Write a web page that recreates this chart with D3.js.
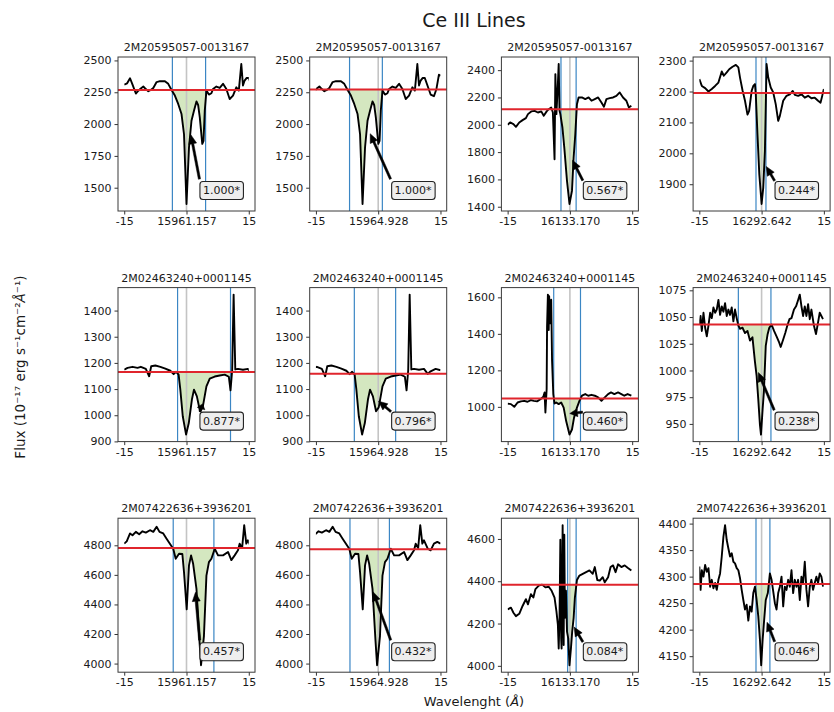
<!DOCTYPE html>
<html>
<head>
<meta charset="utf-8">
<script src="https://d3js.org/d3.v7.min.js"></script>
<style>
  body { margin: 0; background: #fff; }
  svg { font-family: "DejaVu Sans", sans-serif; }
</style>
</head>
<body>
<div class="chart"></div>
<script>
(function() {

  // star ids (one per row) and line centres (one per column)
  const stars = ['2M20595057-0013167', '2M02463240+0001145', '2M07422636+3936201'];
  const lineCenters = [15961.157, 15964.928, 16133.170, 16292.642];
  const centerLabels = ['15961.157', '15964.928', '16133.170', '16292.642'];
  const edgeTickLabels = ['-15', '15'];
  // the spectra below are stored as offsets (Angstrom) from these wavelengths
  const regionRef = [15961.157, 15961.157, 16133.170, 16292.642];

  // 2M20595057-0013167
  const flux1_15961 = [[-15,2310],[-14.3,2320],[-13.6,2360],[-13.0,2310],[-12.2,2240],[-11.6,2262],[-11.0,2280],
    [-10.4,2295],[-9.8,2275],[-9.2,2258],[-8.6,2268],[-8.0,2284],[-7.2,2330],[-6.4,2337],[-5.2,2337],[-4.4,2316],
    [-3.6,2268],[-2.8,2224],[-2.0,2158],[-1.2,2079],[-0.6,1920],[0.0,1372],[0.6,1816],[1.2,2026],[1.8,2105],
    [2.4,2178],[2.8,2150],[3.2,2053],[3.8,1845],[4.1,1868],[4.4,2105],[4.8,2263],[5.4,2232],[6.0,2242],[6.4,2276],
    [7.2,2295],[8.0,2284],[8.8,2316],[9.6,2276],[10.4,2197],[11.2,2224],[12.0,2289],[12.6,2263],[13.2,2472],
    [13.6,2303],[14.0,2342],[14.5,2363],[15.0,2362],[15.7,2297],[16.4,2232],[17.2,2219],[17.8,2276],[18.4,2388],[18.8,2380]];
  const flux1_16133 = [[-15,2000],[-14.4,2017],[-13.6,2005],[-13.0,1985],[-12.2,2017],[-11.4,2034],[-10.6,2049],
    [-10.1,2078],[-9.3,2098],[-8.5,2102],[-7.7,2090],[-6.9,2098],[-6.3,2066],[-5.6,2098],[-5.1,2114],[-4.5,2127],
    [-4.1,2090],[-3.7,1748],[-3.5,2371],[-3.25,2078],[-2.9,2298],[-2.7,2445],[-2.5,2102],[-2.3,2078],[-1.8,1980],
    [-1.35,1833],[-0.7,1589],[-0.1,1420],[0.5,1516],[0.9,1760],[1.3,1931],[1.7,2151],[2.1,2200],[2.9,2200],
    [3.7,2188],[4.5,2200],[5.2,2176],[6.0,2188],[6.8,2200],[7.6,2163],[8.2,2132],[8.8,2188],[9.6,2195],[10.4,2200],
    [11.2,2212],[12.0,2237],[12.8,2200],[13.6,2176],[14.2,2127],[14.8,2139]];
  const flux1_16292 = [[-15,2240],[-14.4,2218],[-13.6,2211],[-12.8,2200],[-12.0,2208],[-11.2,2218],[-10.4,2229],
    [-9.6,2265],[-9.1,2251],[-8.4,2262],[-7.8,2272],[-7.0,2280],[-6.2,2286],[-5.6,2278],[-5.2,2245],[-4.6,2204],
    [-4.0,2170],[-3.4,2125],[-3.0,2137],[-2.4,2202],[-2.0,2218],[-1.6,2224],[-1.4,2191],[-1.0,2062],[-0.55,1932],
    [0.0,1836],[0.4,1889],[0.8,2008],[1.2,2289],[1.6,2245],[2.2,2213],[2.8,2197],[3.4,2159],[4.0,2105],[4.4,2121],
    [5.2,2170],[6.0,2186],[6.8,2191],[7.5,2202],[8.0,2189],[8.8,2186],[9.6,2191],[10.4,2180],[11.2,2186],
    [12.0,2178],[12.8,2180],[13.6,2170],[14.2,2164],[14.7,2191],[15.0,2208]];

  // 2M02463240+0001145
  const flux2_15961 = [[-15,1174],[-14.2,1181],[-13.0,1185],[-11.8,1181],[-11.0,1185],[-9.8,1177],[-9.0,1149],
    [-8.5,1187],[-7.5,1190],[-6.3,1185],[-5.1,1178],[-3.9,1170],[-3.1,1157],[-2.5,1166],[-1.9,1155],[-1.5,1100],
    [-0.9,996],[-0.1,926],[0.55,970],[1.3,1060],[1.8,1098],[2.5,1072],[3.25,1015],[3.9,1030],[4.8,1110],
    [5.6,1140],[6.8,1148],[8.0,1152],[9.2,1155],[10.2,1147],[10.6,1095],[11.0,1172],[11.35,1461],[11.75,1175],
    [12.4,1177],[13.6,1174],[14.8,1177],[15.7,1158],[16.4,1168],[17.6,1177],[18.8,1172]];
  const flux2_16133 = [[-15,1018],[-14.2,1015],[-13.4,1000],[-12.6,1024],[-11.8,1030],[-11.0,1033],[-10.2,1028],
    [-9.4,1037],[-8.7,1033],[-7.9,1030],[-7.1,1042],[-6.4,1055],[-6.1,1079],[-5.9,969],[-5.6,1098],[-5.5,1439],
    [-5.3,1615],[-5.1,1421],[-5.0,1606],[-4.7,1458],[-4.5,1587],[-4.3,1255],[-4.0,1070],[-3.7,1018],[-3.3,1024],
    [-2.7,1015],[-2.1,1024],[-1.5,996],[-0.9,922],[-0.1,848],[0.5,876],[1.0,941],[1.7,996],[2.3,1033],[2.9,1061],
    [3.7,1070],[4.4,1061],[5.2,1066],[6.0,1061],[6.8,1052],[7.6,1033],[8.4,1052],[9.2,1070],[9.9,1079],[10.7,1070],
    [11.6,1079],[12.4,1070],[13.1,1061],[13.9,1070],[14.8,1061]];
  const flux2_16292 = [[-15,1043],[-14.7,1051],[-14.4,1037],[-14.0,1054],[-13.6,1040],[-13.2,1032],[-12.8,1042],
    [-12.4,1054],[-12.0,1049],[-11.6,1059],[-11.2,1054],[-10.8,1057],[-10.4,1066],[-10.0,1052],[-9.6,1060],
    [-9.2,1055],[-8.8,1063],[-8.4,1051],[-8.0,1057],[-7.6,1052],[-7.2,1059],[-6.8,1046],[-6.4,1057],[-6.0,1049],
    [-5.6,1042],[-5.2,1039],[-4.6,1040],[-4.0,1035],[-3.4,1037],[-2.8,1028],[-2.2,1031],[-1.6,1008],[-1.2,995],
    [-0.8,973],[-0.4,949],[-0.15,940],[0.25,964],[0.55,980],[1.0,1023],[1.45,1034],[1.85,1040],[2.4,1043],
    [3.0,1037],[3.6,1032],[4.25,1026],[4.6,1022],[5.2,1029],[5.7,1035],[6.2,1042],[6.7,1048],[7.2,1049],
    [7.8,1057],[8.3,1060],[8.8,1066],[9.2,1071],[9.6,1060],[10.0,1051],[10.4,1060],[10.8,1051],[11.2,1062],
    [11.6,1048],[12.0,1057],[12.6,1042],[13.1,1034],[13.6,1045],[14.0,1054],[14.4,1051],[14.8,1048]];

  // 2M07422636+3936201
  const flux3_15961 = [[-15,4811],[-14.4,4827],[-13.6,4880],[-13.0,4868],[-12.2,4891],[-11.4,4875],[-10.6,4895],
    [-9.8,4886],[-8.8,4902],[-8.0,4891],[-7.2,4925],[-6.5,4891],[-5.6,4880],[-4.8,4845],[-4.0,4811],[-3.2,4777],
    [-2.6,4709],[-1.8,4743],[-1.0,4741],[-0.6,4618],[0.05,4367],[0.6,4664],[1.1,4732],[1.6,4675],[2.4,4505],
    [3.1,4164],[3.5,3989],[4.2,4186],[4.8,4595],[5.4,4686],[6.0,4709],[6.8,4777],[7.6,4732],[8.8,4732],
    [10.0,4755],[10.8,4700],[11.6,4732],[12.4,4766],[12.8,4811],[13.4,4782],[13.9,4936],[14.4,4811],[14.8,4834],
    [15.7,4777],[16.4,4766],[17.2,4811],[18.0,4823],[18.8,4811]];
  const flux3_16133 = [[-15,4267],[-14.2,4275],[-13.6,4251],[-13.0,4235],[-12.2,4246],[-11.4,4283],[-10.6,4315],
    [-10.1,4291],[-9.4,4339],[-8.8,4323],[-8.3,4363],[-7.5,4379],[-6.7,4384],[-5.9,4371],[-5.1,4374],[-4.4,4355],
    [-3.7,4323],[-3.25,4259],[-2.9,4195],[-2.7,4082],[-2.5,4227],[-2.3,4596],[-2.1,4130],[-2.0,4082],[-1.75,4665],
    [-1.5,4098],[-1.35,4620],[-1.2,4227],[-0.95,4355],[-0.7,4162],[-0.4,4130],[-0.1,4003],[0.25,4082],[0.55,4162],
    [0.9,4227],[1.2,4323],[1.7,4406],[2.3,4427],[3.1,4435],[3.9,4443],[4.7,4451],[5.5,4435],[6.0,4467],[6.6,4406],
    [7.2,4403],[7.9,4419],[8.4,4395],[9.2,4419],[9.8,4467],[10.4,4475],[11.0,4443],[11.6,4480],[12.4,4467],
    [13.2,4475],[13.9,4464],[14.8,4451]];
  const flux3_16292 = [[-15,4319],[-14.7,4275],[-14.4,4312],[-14.0,4300],[-13.6,4322],[-13.2,4309],[-12.8,4316],
    [-12.4,4281],[-12.0,4294],[-11.6,4278],[-11.2,4288],[-10.8,4275],[-10.4,4294],[-10.0,4306],[-9.6,4338],
    [-9.2,4375],[-8.8,4397],[-8.4,4369],[-8.0,4353],[-7.6,4338],[-7.2,4344],[-6.8,4328],[-6.4,4325],[-6.0,4316],
    [-5.6,4312],[-5.2,4297],[-4.8,4275],[-4.4,4256],[-4.0,4238],[-3.6,4247],[-3.2,4217],[-2.8,4244],[-2.4,4234],
    [-2.0,4269],[-1.6,4281],[-1.2,4256],[-0.8,4225],[-0.4,4181],[-0.1,4133],[0.25,4181],[0.55,4212],[1.0,4256],
    [1.5,4269],[2.0,4306],[2.4,4294],[2.8,4272],[3.2,4250],[3.6,4238],[4.0,4269],[4.4,4281],[4.8,4300],[5.2,4244],
    [5.6,4281],[6.0,4275],[6.4,4294],[6.8,4281],[7.2,4312],[7.6,4269],[8.0,4294],[8.4,4281],[8.8,4294],[9.2,4256],
    [9.6,4300],[10.0,4288],[10.4,4328],[10.8,4275],[11.2,4244],[11.6,4281],[12.0,4294],[12.4,4275],[12.8,4288],
    [13.2,4300],[13.6,4288],[14.0,4306],[14.4,4300],[14.8,4281]];

  const spectra = [
    [flux1_15961, flux1_15961, flux1_16133, flux1_16292],
    [flux2_15961, flux2_15961, flux2_16133, flux2_16292],
    [flux3_15961, flux3_15961, flux3_16133, flux3_16292]
  ];

  // continuum level (red line)
  const continuum = [[2268, 2271, 2114, 2195], [1165, 1159, 1046, 1043], [4782, 4773, 4384, 4286]];
  // integration window edges (blue lines), offsets from line centre
  const windowLo = [[-3.4, -6.9, -2.15, -1.35], [-2.15, -5.75, -3.9, -5.6], [-3.2, -6.8, -0.55, -1.35]];
  const windowHi = [[4.6, 1.0, 1.5, 1.05], [10.6, 4.2, 2.55, 2.25], [6.6, 2.7, 1.5, 2.0]];
  // annotation text and the point each arrow points at
  const ewLabels = [['1.000*', '1.000*', '0.567*', '0.244*'], ['0.877*', '0.796*', '0.460*', '0.238*'],
    ['0.457*', '0.432*', '0.084*', '0.046*']];
  const arrowTargets = [
    [[0.96, 1934], [-2.2, 1944], [0.5, 1748], [1.0, 1960]],
    [[3.9, 1045], [-0.1, 1056], [-0.2, 963], [-1.0, 1000]],
    [[2.1, 4500], [-1.45, 4503], [0.9, 4187], [1.2, 4216]]
  ];
  const yTicks = [
    [[1500, 1750, 2000, 2250, 2500], [1500, 1750, 2000, 2250, 2500], [1400, 1600, 1800, 2000, 2200, 2400], [1900, 2000, 2100, 2200, 2300]],
    [[900, 1000, 1100, 1200, 1300, 1400], [900, 1000, 1100, 1200, 1300, 1400], [1000, 1200, 1400, 1600], [950, 975, 1000, 1025, 1050, 1075]],
    [[4000, 4200, 4400, 4600, 4800], [4000, 4200, 4400, 4600, 4800], [4000, 4200, 4400, 4600], [4150, 4200, 4250, 4300, 4350, 4400]]
  ];

  let svgContainer = '';
  const W = 137, H = 154;

  window.onload = function() {
    svgContainer = d3.select('.chart').append('svg')
      .attr('width', 834)
      .attr('height', 712);

    svgContainer.append('text')
      .attr('x', 474)
      .attr('y', 27)
      .attr('text-anchor', 'middle')
      .attr('font-size', 19)
      .attr('fill', '#1a1a1a')
      .text('Ce III Lines');

    for (let r = 0; r < 3; r++) {
      for (let c = 0; c < 4; c++) {
        drawPanel(r, c, 118 + c * 191.7, 57 + r * 230.6);
      }
    }

    svgContainer.append('text')
      .attr('x', 474)
      .attr('y', 706)
      .attr('text-anchor', 'middle')
      .attr('font-size', 13)
      .attr('fill', '#1a1a1a')
      .html('Wavelenght (<tspan font-style="italic">Å</tspan>)');

    svgContainer.append('text')
      .attr('transform', 'translate(20, 367)rotate(-90)')
      .attr('text-anchor', 'middle')
      .attr('dominant-baseline', 'central')
      .attr('font-size', 13.5)
      .attr('fill', '#1a1a1a')
      .html('Flux (10⁻¹⁷ erg s⁻¹cm⁻²<tspan font-style="italic">Å</tspan>⁻¹)');
  };

  // one small axes: spectrum, continuum, window, fill and annotation
  function drawPanel(r, c, left, top) {
    let shift = lineCenters[c] - regionRef[c];
    let pts = spectra[r][c].map((d) => [d[0] - shift, d[1]]);
    let shown = pts.filter((d) => d[0] >= -15.05 && d[0] <= 15.05);

    // autoscale y like matplotlib (5% margins)
    let ext = d3.extent(shown, (d) => d[1]);
    let m = (ext[1] - ext[0]) * 0.05;
    let xScale = d3.scaleLinear().domain([-16.5, 16.5]).range([0, W]);
    let yScale = d3.scaleLinear().domain([ext[0] - m, ext[1] + m]).range([H, 0]);

    let g = svgContainer.append('g')
      .attr('transform', 'translate(' + left + ',' + top + ')');

    let id = 'p' + r + c;
    let lo = windowLo[r][c], hi = windowHi[r][c];
    let defs = g.append('defs');
    defs.append('clipPath').attr('id', id + 'a').append('rect')
      .attr('x', xScale(-15)).attr('y', 0)
      .attr('width', xScale(15) - xScale(-15)).attr('height', H);
    defs.append('clipPath').attr('id', id + 'w').append('rect')
      .attr('x', xScale(lo)).attr('y', 0)
      .attr('width', xScale(hi) - xScale(lo)).attr('height', H);

    // shaded area between continuum and spectrum inside the window
    let area = d3.area()
      .x((d) => xScale(d[0]))
      .y0(yScale(continuum[r][c]))
      .y1((d) => yScale(d[1]));
    g.append('path')
      .datum(pts)
      .attr('d', area)
      .attr('fill', '#d4e7c0')
      .attr('clip-path', 'url(#' + id + 'w)');

    // line centre
    g.append('line')
      .attr('x1', xScale(0)).attr('x2', xScale(0))
      .attr('y1', 0).attr('y2', H)
      .attr('stroke', '#c4c4c4')
      .attr('stroke-width', 1.6);

    // window edges
    g.selectAll('.edge')
      .data([lo, hi])
      .enter()
      .append('line')
        .attr('x1', (d) => xScale(d)).attr('x2', (d) => xScale(d))
        .attr('y1', 0).attr('y2', H)
        .attr('stroke', '#3b86c4')
        .attr('stroke-width', 1.2);

    // spectrum
    let line = d3.line()
      .x((d) => xScale(d[0]))
      .y((d) => yScale(d[1]));
    g.append('path')
      .datum(pts)
      .attr('d', line)
      .attr('fill', 'none')
      .attr('stroke', '#000')
      .attr('stroke-width', 1.9)
      .attr('stroke-linejoin', 'round')
      .attr('clip-path', 'url(#' + id + 'a)');

    // continuum
    g.append('line')
      .attr('x1', 0).attr('x2', W)
      .attr('y1', yScale(continuum[r][c])).attr('y2', yScale(continuum[r][c]))
      .attr('stroke', '#e0252c')
      .attr('stroke-width', 2);

    // axes
    let yAxis = d3.axisLeft(yScale)
      .tickValues(yTicks[r][c])
      .tickFormat(d3.format('d'))
      .tickSize(3.5)
      .tickPadding(3);
    let yg = g.append('g').call(yAxis);

    let xAxis = d3.axisBottom(xScale)
      .tickValues([-15, 0, 15])
      .tickFormat((d) => d === 0 ? centerLabels[c] : (d < 0 ? edgeTickLabels[0] : edgeTickLabels[1]))
      .tickSize(3.5)
      .tickPadding(3);
    let xg = g.append('g').attr('transform', 'translate(0,' + H + ')').call(xAxis);

    [xg, yg].forEach((a) => {
      a.select('.domain').remove();
      a.selectAll('line').attr('stroke', '#333');
      a.selectAll('text')
        .attr('font-family', '"DejaVu Sans", sans-serif')
        .attr('font-size', 11)
        .attr('fill', '#1a1a1a');
    });

    g.append('rect')
      .attr('width', W).attr('height', H)
      .attr('fill', 'none')
      .attr('stroke', '#3a3a3a')
      .attr('stroke-width', 1);

    g.append('text')
      .attr('x', W / 2)
      .attr('y', -6)
      .attr('text-anchor', 'middle')
      .attr('font-size', 11)
      .attr('fill', '#1a1a1a')
      .text(stars[r]);

    // annotation box
    let lx = W * 0.755, ly = H * (1 - 0.133);
    let box = g.append('rect');
    let label = g.append('text')
      .attr('x', lx).attr('y', ly)
      .attr('text-anchor', 'middle')
      .attr('dominant-baseline', 'central')
      .attr('font-size', 11)
      .attr('fill', '#1a1a1a')
      .text(ewLabels[r][c]);
    let bb = label.node().getBBox();
    let pad = 3;
    let bx0 = bb.x - pad, by0 = bb.y - pad + 0.5, bx1 = bb.x + bb.width + pad, by1 = bb.y + bb.height + pad - 0.5;
    box.attr('x', bx0).attr('y', by0)
      .attr('width', bx1 - bx0).attr('height', by1 - by0)
      .attr('rx', 3)
      .attr('fill', '#eeeeee')
      .attr('stroke', '#222')
      .attr('stroke-width', 1.1);

    let tx = xScale(arrowTargets[r][c][0]), ty = yScale(arrowTargets[r][c][1]);
    // pick the box corner / edge midpoint closest to the target
    let sx = [bx0, (bx0 + bx1) / 2, bx1].reduce((a, b) => Math.abs(b - tx) < Math.abs(a - tx) ? b : a);
    let sy = [by0, (by0 + by1) / 2, by1].reduce((a, b) => Math.abs(b - ty) < Math.abs(a - ty) ? b : a);
    drawArrow(g, sx, sy, tx, ty);
  }

  // filled arrow from (x0,y0) to (x1,y1), shrunk 5% at both ends
  function drawArrow(g, x0, y0, x1, y1) {
    let dx = x1 - x0, dy = y1 - y0;
    let len = Math.hypot(dx, dy);
    let ux = dx / len, uy = dy / len, nx = -uy, ny = ux;
    let sx = x0 + dx * 0.05, sy = y0 + dy * 0.05;
    let ex = x1 - dx * 0.05, ey = y1 - dy * 0.05;
    let hl = Math.min(9, len * 0.9 * 0.6), hw = 4, sw = 1.1;
    let bx = ex - ux * hl, by = ey - uy * hl;
    let poly = [
      [sx + nx * sw, sy + ny * sw], [bx + nx * sw, by + ny * sw], [bx + nx * hw, by + ny * hw],
      [ex, ey],
      [bx - nx * hw, by - ny * hw], [bx - nx * sw, by - ny * sw], [sx - nx * sw, sy - ny * sw]
    ];
    g.append('path')
      .attr('d', 'M' + poly.map((p) => p[0].toFixed(2) + ',' + p[1].toFixed(2)).join('L') + 'Z')
      .attr('fill', '#000')
      .attr('stroke', '#000')
      .attr('stroke-width', 0.5);
  }

})();
</script>
</body>
</html>
